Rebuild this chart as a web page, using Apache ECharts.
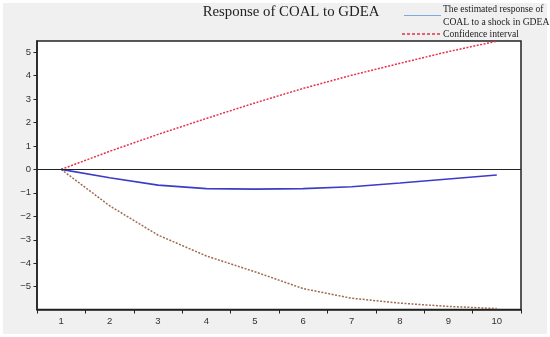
<!DOCTYPE html>
<html>
<head>
<meta charset="utf-8">
<script src="https://cdn.jsdelivr.net/npm/echarts@6/dist/echarts.min.js"></script>
<style>
html,body{margin:0;padding:0;background:#fff;}
#chart{width:550px;height:337px;}
</style>
</head>
<body>
<div id="chart"></div>
<script>
var categories = ['1','2','3','4','5','6','7','8','9','10'];
var response = [0, -0.36, -0.67, -0.82, -0.84, -0.82, -0.74, -0.58, -0.41, -0.24];
var upperBand = [0, 0.77, 1.49, 2.17, 2.83, 3.45, 4.01, 4.52, 5.02, 5.46];
var lowerBand = [0, -1.55, -2.80, -3.69, -4.36, -5.08, -5.49, -5.70, -5.84, -5.93];
var yTicks = [-5, -4, -3, -2, -1, 0, 1, 2, 3, 4, 5];
var titleText = 'Response of COAL to GDEA';
var legendResponse = ['The estimated response of', 'COAL to a shock in GDEA'];
var legendBand = 'Confidence interval';

var chart = echarts.init(document.getElementById('chart'), null, {renderer: 'canvas'});
var serif = '"Liberation Serif", "Times New Roman", serif';
var sans = '"Liberation Sans", Arial, sans-serif';

chart.setOption({
  animation: false,
  backgroundColor: '#ffffff',
  graphic: [
    {type: 'rect', z: -10, silent: true, shape: {x: 3, y: 3, width: 544, height: 331}, style: {fill: '#f0f0f0'}},
    {type: 'text', x: 291, y: 12, style: {text: titleText, font: '14.8px ' + serif, fill: '#222', textAlign: 'center', textVerticalAlign: 'middle'}},
    {type: 'line', shape: {x1: 404, y1: 15.5, x2: 441, y2: 15.5}, style: {stroke: '#7fa7e0', lineWidth: 1.2}},
    {type: 'text', x: 443, y: 9, style: {text: legendResponse[0], font: '9.6px ' + serif, fill: '#222', textVerticalAlign: 'middle'}},
    {type: 'text', x: 443, y: 22, style: {text: legendResponse[1], font: '9.6px ' + serif, fill: '#222', textVerticalAlign: 'middle'}},
    {type: 'line', shape: {x1: 402, y1: 34, x2: 441, y2: 34}, style: {stroke: '#e8304a', lineWidth: 1.5, lineDash: [3, 2]}},
    {type: 'text', x: 443, y: 34, style: {text: legendBand, font: '9.6px ' + serif, fill: '#222', textVerticalAlign: 'middle'}}
  ],
  grid: {
    left: 37, right: 29, top: 41, bottom: 27.5,
    show: true, backgroundColor: '#ffffff', borderColor: '#222', borderWidth: 1.5
  },
  xAxis: {
    type: 'category',
    data: categories,
    boundaryGap: true,
    axisLine: {show: true, onZero: false, lineStyle: {color: '#222', width: 1.5}},
    axisTick: {show: true, inside: false, length: 4, alignWithLabel: false, lineStyle: {color: '#222'}},
    axisLabel: {margin: 7, fontSize: 9.5, fontFamily: sans, color: '#333'},
    splitLine: {show: false}
  },
  yAxis: {
    type: 'value',
    min: -5.97,
    max: 5.47,
    axisLine: {show: true, lineStyle: {color: '#222', width: 1.5}},
    axisTick: {show: true, length: 3.5, customValues: yTicks, lineStyle: {color: '#222'}},
    axisLabel: {
      margin: 6, fontSize: 9.5, fontFamily: sans, color: '#333',
      customValues: yTicks,
      formatter: function (v) { return String(v).replace('-', '\u2212'); }
    },
    splitLine: {show: false}
  },
  series: [
    {
      name: 'Confidence interval (upper)',
      type: 'line', data: upperBand, symbol: 'none', z: 3,
      lineStyle: {color: '#e8304a', width: 1.5, type: [2, 1.5]}
    },
    {
      name: 'Confidence interval (lower)',
      type: 'line', data: lowerBand, symbol: 'none', z: 3,
      lineStyle: {color: '#a06a4e', width: 1.5, type: [2, 1.5]}
    },
    {
      name: 'The estimated response of COAL to a shock in GDEA',
      type: 'line', data: response, symbol: 'none', z: 4,
      lineStyle: {color: '#3c3cc8', width: 1.6},
      markLine: {
        silent: true, symbol: 'none', label: {show: false},
        lineStyle: {color: '#222', width: 1.2, type: 'solid'},
        data: [{yAxis: 0}]
      }
    }
  ]
});
</script>
</body>
</html>
